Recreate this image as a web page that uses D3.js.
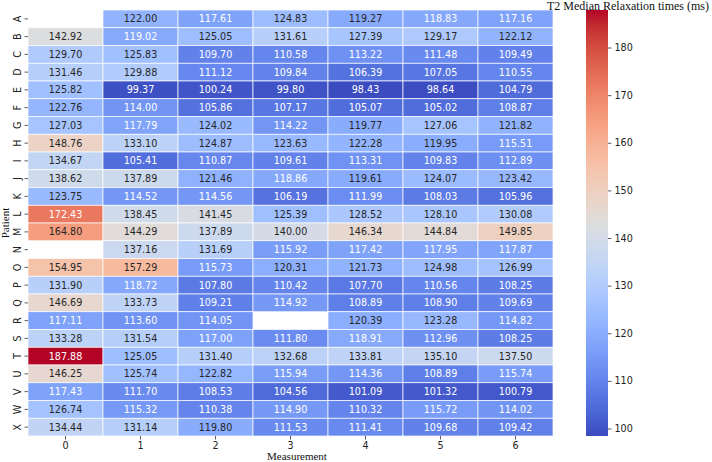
<!DOCTYPE html>
<html><head><meta charset="utf-8">
<script src="https://cdn.jsdelivr.net/npm/d3@7"></script>
<style>body{margin:0;background:#fff;} svg{display:block;}</style>
</head><body>
<svg id="chart" width="712" height="462"></svg>
<script>
const patients = ["A","B","C","D","E","F","G","H","I","J","K","L","M","N","O","P","Q","R","S","T","U","V","W","X"];
const measurements = [0,1,2,3,4,5,6];
const col0 = [null,142.92,129.70,131.46,125.82,122.76,127.03,148.76,134.67,138.62,123.75,172.43,164.80,null,154.95,131.90,146.69,117.11,133.28,187.88,146.25,117.43,126.74,134.44];
const col1 = [122.00,119.02,125.83,129.88,99.37,114.00,117.79,133.10,105.41,137.89,114.52,138.45,144.29,137.16,157.29,118.72,133.73,113.60,131.54,125.05,125.74,111.70,115.32,131.14];
const col2 = [117.61,125.05,109.70,111.12,100.24,105.86,124.02,124.87,110.87,121.46,114.56,141.45,137.89,131.69,115.73,107.80,109.21,114.05,117.00,131.40,122.82,108.53,110.38,119.80];
const col3 = [124.83,131.61,110.58,109.84,99.80,107.17,114.22,123.63,109.61,118.86,106.19,125.39,140.00,115.92,120.31,110.42,114.92,null,111.80,132.68,115.94,104.56,114.90,111.53];
const col4 = [119.27,127.39,113.22,106.39,98.43,105.07,119.77,122.28,113.31,119.61,111.99,128.52,146.34,117.42,121.73,107.70,108.89,120.39,118.91,133.81,114.36,101.09,110.32,111.41];
const col5 = [118.83,129.17,111.48,107.05,98.64,105.02,127.06,119.95,109.83,124.07,108.03,128.10,144.84,117.95,124.98,110.56,108.90,123.28,112.96,135.10,108.89,101.32,115.72,109.68];
const col6 = [117.16,122.12,109.49,110.55,104.79,108.87,121.82,115.51,112.89,123.42,105.96,130.08,149.85,117.87,126.99,108.25,109.69,114.82,108.25,137.50,115.74,100.79,114.02,109.42];
const colorbarTicks = [100,110,120,130,140,150,160,170,180];
const colorbarTitle = "T2 Median Relaxation times (ms)";
const xTitle = "Measurement";
const yTitle = "Patient";

const columns = [col0,col1,col2,col3,col4,col5,col6];
const cells = [];
patients.forEach((p,i)=>measurements.forEach((m,j)=>cells.push({p,m,v:columns[j][i]})));
const allVals = cells.map(d=>d.v).filter(v=>v!=null);
const vmin = d3.min(allVals), vmax = d3.max(allVals);

// matplotlib coolwarm (Moreland) control points
const cw = [[59,76,192],[68,90,204],[77,104,215],[87,117,225],[98,130,234],[108,142,241],[119,154,247],[130,165,251],[141,176,254],[152,185,255],[163,194,255],[174,201,253],[184,208,249],[194,213,244],[204,217,238],[213,219,230],[221,221,221],[229,216,209],[236,211,197],[241,204,185],[245,196,173],[247,187,160],[247,177,148],[247,166,135],[244,154,123],[241,141,111],[236,127,99],[229,112,88],[222,96,77],[213,80,66],[203,62,56],[192,40,47],[180,4,38]];
const cmap = d3.scaleLinear().domain(cw.map((_,i)=>i/(cw.length-1))).range(cw.map(c=>`rgb(${c[0]},${c[1]},${c[2]})`)).interpolate(d3.interpolateRgb).clamp(true);
const norm = d3.scaleLinear().domain([vmin,vmax]).range([0,1]);
const color = v => cmap(norm(v));

function lum(c){
  const r = d3.rgb(c);
  const f = x=>{x/=255; return x<=0.03928? x/12.92 : Math.pow((x+0.055)/1.055,2.4);};
  return 0.2126*f(r.r)+0.7152*f(r.g)+0.0722*f(r.b);
}

const svg = d3.select("#chart");
const L=28, R=553, T=10, B=436;
const x = d3.scaleBand().domain(measurements).range([L,R]);
const y = d3.scaleBand().domain(patients).range([T,B]);

const g = svg.append("g");
g.selectAll("rect").data(cells.filter(d=>d.v!=null)).join("rect")
  .attr("x",d=>x(d.m)).attr("y",d=>y(d.p))
  .attr("width",x.bandwidth()).attr("height",y.bandwidth())
  .attr("fill",d=>color(d.v)).attr("stroke","#fff").attr("stroke-width",0.7);

g.selectAll("text.ann").data(cells.filter(d=>d.v!=null)).join("text")
  .attr("class","ann")
  .attr("x",d=>x(d.m)+x.bandwidth()/2).attr("y",d=>y(d.p)+y.bandwidth()/2)
  .attr("text-anchor","middle").attr("dominant-baseline","central")
  .attr("font-family","DejaVu Sans").attr("font-size","9.6px")
  .attr("fill",d=>lum(color(d.v))>0.408?"#262626":"#ffffff")
  .text(d=>d.v.toFixed(2));

// x axis
const xa = svg.append("g").attr("transform",`translate(0,${B})`)
  .call(d3.axisBottom(x).tickSize(3.5).tickPadding(3));
xa.select(".domain").remove();
xa.selectAll("line").attr("stroke","#333").attr("stroke-width",0.8);
xa.selectAll("text").attr("font-family","DejaVu Sans").attr("font-size","9.6px").attr("fill","#222");

// y axis
const ya = svg.append("g").attr("transform",`translate(${L},0)`)
  .call(d3.axisLeft(y).tickSize(3.5).tickPadding(3));
ya.select(".domain").remove();
ya.selectAll("line").attr("stroke","#333").attr("stroke-width",0.8);
ya.selectAll("text").attr("font-family","DejaVu Sans").attr("font-size","9.6px").attr("fill","#222")
  .attr("x",null).attr("dy",null)
  .attr("text-anchor","middle")
  .attr("transform","translate(-5.5,0) rotate(-90)")
  .attr("dominant-baseline","text-after-edge");

svg.append("text").attr("x",297).attr("y",460).attr("text-anchor","middle")
  .attr("font-family","Liberation Serif").attr("font-size","11px").attr("fill","#111").text(xTitle);
svg.append("text").attr("transform","translate(9,223) rotate(-90)").attr("text-anchor","middle")
  .attr("font-family","Liberation Serif").attr("font-size","11px").attr("fill","#111").text(yTitle);

// colorbar
const cbX=586, cbW=22;
const cy = d3.scaleLinear().domain([vmin,vmax]).range([B,T]);
const defs = svg.append("defs");
const grad = defs.append("linearGradient").attr("id","cbg").attr("x1",0).attr("y1",1).attr("x2",0).attr("y2",0);
cw.forEach((c,i)=>grad.append("stop").attr("offset",i/(cw.length-1)).attr("stop-color",`rgb(${c[0]},${c[1]},${c[2]})`));
svg.append("rect").attr("x",cbX).attr("y",T).attr("width",cbW).attr("height",B-T).attr("fill","url(#cbg)");
const ca = svg.append("g").attr("transform",`translate(${cbX+cbW},0)`)
  .call(d3.axisRight(cy).tickValues(colorbarTicks).tickSize(3.5).tickPadding(3));
ca.select(".domain").remove();
ca.selectAll("line").attr("stroke","#333").attr("stroke-width",0.8);
ca.selectAll("text").attr("font-family","DejaVu Sans").attr("font-size","9.6px").attr("fill","#222");
svg.append("text").attr("x",709).attr("y",10).attr("text-anchor","end")
  .attr("font-family","Liberation Serif").attr("font-size","12px").attr("fill","#111").text(colorbarTitle);
</script>
</body></html>
